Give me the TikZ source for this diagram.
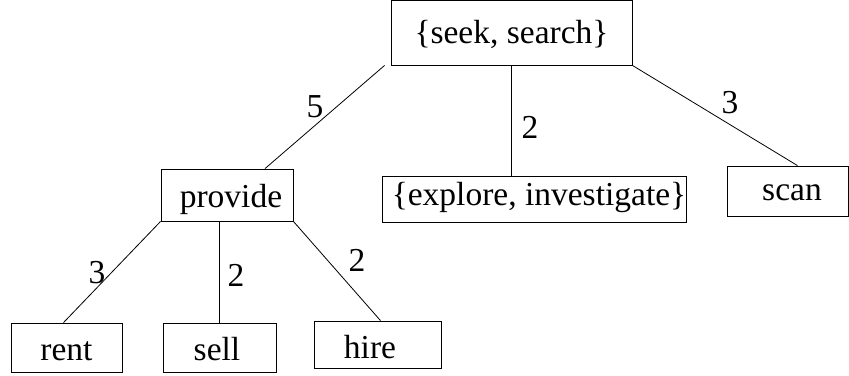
\documentclass[tikz,border=0pt]{standalone}
\usepackage{fontspec}
\setmainfont{Liberation Serif}
\usepackage{tikz}
\usetikzlibrary{positioning,calc}

\begin{document}
\begin{tikzpicture}[
    x=1pt, y=-1pt,
    box/.style={draw, line width=0.8pt, inner sep=0pt, align=center,
                text height=24pt, text depth=0pt,
                font=\fontsize{33.5}{40}\selectfont},
    link/.style={line width=0.8pt},
    weight/.style={inner sep=0pt, font=\fontsize{33.5}{40}\selectfont},
]
    \useasboundingbox (0,0) rectangle (849,375);

    % synsets and words
    \node[box, text height=21pt, minimum width=241, minimum height=65] (seek) at (511.5,32.5) {\{seek, search\}};
    \node[box, minimum width=132, minimum height=52] (provide) at (227,195) {\hspace*{8pt}provide};
    \node[box, text height=12pt, minimum width=299, minimum height=46] (explore) at (534.5,199) {\hspace*{9pt}\{explore, investigate\}};
    \node[box, text height=18pt, minimum width=121, minimum height=50] (scan) at (787.5,191) {\hspace*{9pt}scan};
    \node[box, text height=25pt, minimum width=111, minimum height=49] (rent) at (66.5,347.5) {rent};
    \node[box, text height=25pt, minimum width=113, minimum height=49] (sell) at (219.5,347.5) {sell\hspace*{5pt}};
    \node[box, text height=27pt, minimum width=127, minimum height=47] (hire) at (377.5,344.5) {hire\hspace*{15pt}};

    \draw[link] ([xshift=-6pt]seek.south west) -- ([xshift=38pt]provide.north);
    \draw[link] (seek.south) -- (seek.south |- explore.north);
    \draw[link] (seek.south east) -- ([xshift=10pt]scan.north);
    \draw[link] (provide.south west) -- ([xshift=-3pt]rent.north);
    \draw[link] (provide.south -| sell.north) -- (sell.north);
    \draw[link] (provide.south east) -- ([xshift=3pt]hire.north);

    % edge weights
    \node[weight] (w-provide) at (315,107) {5};
    \node[weight] (w-explore) at (530,127) {2};
    \node[weight] (w-scan) at (730,103) {3};
    \node[weight] (w-rent) at (97,273) {3};
    \node[weight] (w-sell) at (236,275) {2};
    \node[weight] (w-hire) at (357,260) {2};
\end{tikzpicture}
\end{document}
